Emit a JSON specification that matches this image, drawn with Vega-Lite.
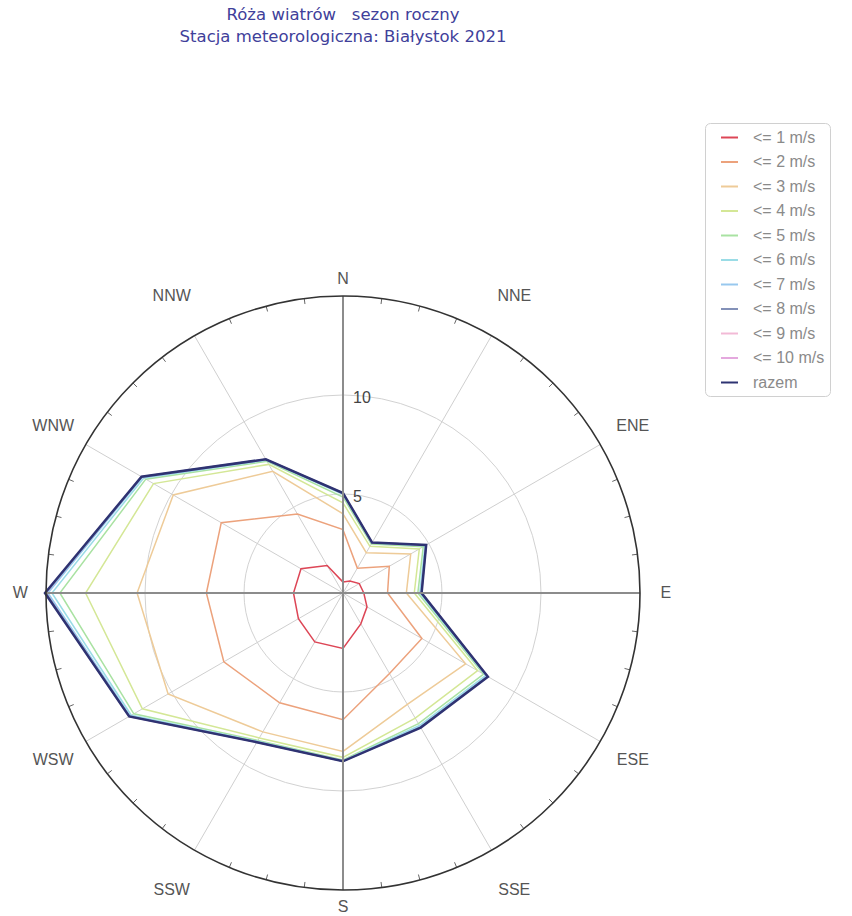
{
  "$schema": "https://vega.github.io/schema/vega-lite/v6.json",
  "width": 594,
  "height": 594,
  "autosize": "none",
  "padding": {"left": 46, "top": 296, "right": 212, "bottom": 26},
  "background": "white",
  "config": {"view": {"stroke": null}},
  "title": {
    "text": ["Róża wiatrów \u00a0 sezon roczny", "Stacja meteorologiczna: Białystok 2021"],
    "frame": "group",
    "anchor": "middle",
    "offset": 77,
    "font": "DejaVu Sans",
    "fontSize": 16.5,
    "fontWeight": "normal",
    "color": "#40409a",
    "lineHeight": 22
  },
  "datasets": {
    "wind": [
      {"s": "<= 1 m/s", "d": 0, "v": 0.55}, {"s": "<= 1 m/s", "d": 30, "v": 0.7}, {"s": "<= 1 m/s", "d": 60, "v": 0.95}, {"s": "<= 1 m/s", "d": 90, "v": 1.05}, {"s": "<= 1 m/s", "d": 120, "v": 1.4}, {"s": "<= 1 m/s", "d": 150, "v": 1.8}, {"s": "<= 1 m/s", "d": 180, "v": 2.8}, {"s": "<= 1 m/s", "d": 210, "v": 2.85}, {"s": "<= 1 m/s", "d": 240, "v": 2.6}, {"s": "<= 1 m/s", "d": 270, "v": 2.5}, {"s": "<= 1 m/s", "d": 300, "v": 2.45}, {"s": "<= 1 m/s", "d": 330, "v": 1.6},
      {"s": "<= 2 m/s", "d": 0, "v": 3.2}, {"s": "<= 2 m/s", "d": 30, "v": 1.45}, {"s": "<= 2 m/s", "d": 60, "v": 2.7}, {"s": "<= 2 m/s", "d": 90, "v": 2.25}, {"s": "<= 2 m/s", "d": 120, "v": 4.6}, {"s": "<= 2 m/s", "d": 150, "v": 4.7}, {"s": "<= 2 m/s", "d": 180, "v": 6.4}, {"s": "<= 2 m/s", "d": 210, "v": 6.4}, {"s": "<= 2 m/s", "d": 240, "v": 6.95}, {"s": "<= 2 m/s", "d": 270, "v": 6.9}, {"s": "<= 2 m/s", "d": 300, "v": 7.1}, {"s": "<= 2 m/s", "d": 330, "v": 4.6},
      {"s": "<= 3 m/s", "d": 0, "v": 4.0}, {"s": "<= 3 m/s", "d": 30, "v": 2.35}, {"s": "<= 3 m/s", "d": 60, "v": 3.95}, {"s": "<= 3 m/s", "d": 90, "v": 3.2}, {"s": "<= 3 m/s", "d": 120, "v": 7.15}, {"s": "<= 3 m/s", "d": 150, "v": 6.5}, {"s": "<= 3 m/s", "d": 180, "v": 8.0}, {"s": "<= 3 m/s", "d": 210, "v": 8.1}, {"s": "<= 3 m/s", "d": 240, "v": 10.2}, {"s": "<= 3 m/s", "d": 270, "v": 10.4}, {"s": "<= 3 m/s", "d": 300, "v": 9.9}, {"s": "<= 3 m/s", "d": 330, "v": 7.1},
      {"s": "<= 4 m/s", "d": 0, "v": 4.55}, {"s": "<= 4 m/s", "d": 30, "v": 2.72}, {"s": "<= 4 m/s", "d": 60, "v": 4.45}, {"s": "<= 4 m/s", "d": 90, "v": 3.6}, {"s": "<= 4 m/s", "d": 120, "v": 7.85}, {"s": "<= 4 m/s", "d": 150, "v": 7.3}, {"s": "<= 4 m/s", "d": 180, "v": 8.3}, {"s": "<= 4 m/s", "d": 210, "v": 8.45}, {"s": "<= 4 m/s", "d": 240, "v": 11.7}, {"s": "<= 4 m/s", "d": 270, "v": 13.0}, {"s": "<= 4 m/s", "d": 300, "v": 11.05}, {"s": "<= 4 m/s", "d": 330, "v": 7.5},
      {"s": "<= 5 m/s", "d": 0, "v": 4.85}, {"s": "<= 5 m/s", "d": 30, "v": 2.86}, {"s": "<= 5 m/s", "d": 60, "v": 4.68}, {"s": "<= 5 m/s", "d": 90, "v": 3.78}, {"s": "<= 5 m/s", "d": 120, "v": 8.2}, {"s": "<= 5 m/s", "d": 150, "v": 7.62}, {"s": "<= 5 m/s", "d": 180, "v": 8.43}, {"s": "<= 5 m/s", "d": 210, "v": 8.6}, {"s": "<= 5 m/s", "d": 240, "v": 12.2}, {"s": "<= 5 m/s", "d": 270, "v": 14.3}, {"s": "<= 5 m/s", "d": 300, "v": 11.5}, {"s": "<= 5 m/s", "d": 330, "v": 7.68},
      {"s": "<= 6 m/s", "d": 0, "v": 4.98}, {"s": "<= 6 m/s", "d": 30, "v": 2.91}, {"s": "<= 6 m/s", "d": 60, "v": 4.78}, {"s": "<= 6 m/s", "d": 90, "v": 3.88}, {"s": "<= 6 m/s", "d": 120, "v": 8.33}, {"s": "<= 6 m/s", "d": 150, "v": 7.73}, {"s": "<= 6 m/s", "d": 180, "v": 8.47}, {"s": "<= 6 m/s", "d": 210, "v": 8.65}, {"s": "<= 6 m/s", "d": 240, "v": 12.35}, {"s": "<= 6 m/s", "d": 270, "v": 14.7}, {"s": "<= 6 m/s", "d": 300, "v": 11.62}, {"s": "<= 6 m/s", "d": 330, "v": 7.74},
      {"s": "<= 7 m/s", "d": 0, "v": 5.02}, {"s": "<= 7 m/s", "d": 30, "v": 2.93}, {"s": "<= 7 m/s", "d": 60, "v": 4.83}, {"s": "<= 7 m/s", "d": 90, "v": 3.93}, {"s": "<= 7 m/s", "d": 120, "v": 8.4}, {"s": "<= 7 m/s", "d": 150, "v": 7.8}, {"s": "<= 7 m/s", "d": 180, "v": 8.49}, {"s": "<= 7 m/s", "d": 210, "v": 8.68}, {"s": "<= 7 m/s", "d": 240, "v": 12.42}, {"s": "<= 7 m/s", "d": 270, "v": 14.9}, {"s": "<= 7 m/s", "d": 300, "v": 11.7}, {"s": "<= 7 m/s", "d": 330, "v": 7.78},
      {"s": "<= 8 m/s", "d": 0, "v": 5.04}, {"s": "<= 8 m/s", "d": 30, "v": 2.94}, {"s": "<= 8 m/s", "d": 60, "v": 4.85}, {"s": "<= 8 m/s", "d": 90, "v": 3.96}, {"s": "<= 8 m/s", "d": 120, "v": 8.44}, {"s": "<= 8 m/s", "d": 150, "v": 7.84}, {"s": "<= 8 m/s", "d": 180, "v": 8.5}, {"s": "<= 8 m/s", "d": 210, "v": 8.7}, {"s": "<= 8 m/s", "d": 240, "v": 12.46}, {"s": "<= 8 m/s", "d": 270, "v": 15.0}, {"s": "<= 8 m/s", "d": 300, "v": 11.74}, {"s": "<= 8 m/s", "d": 330, "v": 7.8},
      {"s": "<= 9 m/s", "d": 0, "v": 5.05}, {"s": "<= 9 m/s", "d": 30, "v": 2.94}, {"s": "<= 9 m/s", "d": 60, "v": 4.85}, {"s": "<= 9 m/s", "d": 90, "v": 3.97}, {"s": "<= 9 m/s", "d": 120, "v": 8.45}, {"s": "<= 9 m/s", "d": 150, "v": 7.85}, {"s": "<= 9 m/s", "d": 180, "v": 8.5}, {"s": "<= 9 m/s", "d": 210, "v": 8.7}, {"s": "<= 9 m/s", "d": 240, "v": 12.47}, {"s": "<= 9 m/s", "d": 270, "v": 15.03}, {"s": "<= 9 m/s", "d": 300, "v": 11.75}, {"s": "<= 9 m/s", "d": 330, "v": 7.8},
      {"s": "<= 10 m/s", "d": 0, "v": 5.05}, {"s": "<= 10 m/s", "d": 30, "v": 2.94}, {"s": "<= 10 m/s", "d": 60, "v": 4.85}, {"s": "<= 10 m/s", "d": 90, "v": 3.97}, {"s": "<= 10 m/s", "d": 120, "v": 8.45}, {"s": "<= 10 m/s", "d": 150, "v": 7.85}, {"s": "<= 10 m/s", "d": 180, "v": 8.5}, {"s": "<= 10 m/s", "d": 210, "v": 8.7}, {"s": "<= 10 m/s", "d": 240, "v": 12.47}, {"s": "<= 10 m/s", "d": 270, "v": 15.05}, {"s": "<= 10 m/s", "d": 300, "v": 11.75}, {"s": "<= 10 m/s", "d": 330, "v": 7.8},
      {"s": "razem", "d": 0, "v": 5.05}, {"s": "razem", "d": 30, "v": 2.94}, {"s": "razem", "d": 60, "v": 4.85}, {"s": "razem", "d": 90, "v": 3.97}, {"s": "razem", "d": 120, "v": 8.45}, {"s": "razem", "d": 150, "v": 7.85}, {"s": "razem", "d": 180, "v": 8.5}, {"s": "razem", "d": 210, "v": 8.7}, {"s": "razem", "d": 240, "v": 12.47}, {"s": "razem", "d": 270, "v": 15.05}, {"s": "razem", "d": 300, "v": 11.75}, {"s": "razem", "d": 330, "v": 7.8}
    ],
    "dirs": [
      {"d": 0, "label": "N"}, {"d": 30, "label": "NNE"}, {"d": 60, "label": "ENE"}, {"d": 90, "label": "E"},
      {"d": 120, "label": "ESE"}, {"d": 150, "label": "SSE"}, {"d": 180, "label": "S"}, {"d": 210, "label": "SSW"},
      {"d": 240, "label": "WSW"}, {"d": 270, "label": "W"}, {"d": 300, "label": "WNW"}, {"d": 330, "label": "NNW"}
    ],
    "rings": [{"r": 5}, {"r": 10}],
    "outer": [{"r": 15}],
    "ticks": [
      {"d": 7.5}, {"d": 15}, {"d": 22.5}, {"d": 37.5}, {"d": 45}, {"d": 52.5}, {"d": 67.5}, {"d": 75}, {"d": 82.5},
      {"d": 97.5}, {"d": 105}, {"d": 112.5}, {"d": 127.5}, {"d": 135}, {"d": 142.5}, {"d": 157.5}, {"d": 165}, {"d": 172.5},
      {"d": 187.5}, {"d": 195}, {"d": 202.5}, {"d": 217.5}, {"d": 225}, {"d": 232.5}, {"d": 247.5}, {"d": 255}, {"d": 262.5},
      {"d": 277.5}, {"d": 285}, {"d": 292.5}, {"d": 307.5}, {"d": 315}, {"d": 322.5}, {"d": 337.5}, {"d": 345}, {"d": 352.5}
    ]
  },
  "layer": [
    {
      "data": {"name": "rings"},
      "transform": [{"calculate": "0", "as": "cx"}, {"calculate": "0", "as": "cy"}],
      "mark": {"type": "point", "shape": "circle", "filled": false, "stroke": "#d2d2d2", "strokeWidth": 1, "opacity": 1},
      "encoding": {
        "x": {"field": "cx", "type": "quantitative", "scale": {"domain": [-15, 15], "nice": false, "zero": false}, "axis": null},
        "y": {"field": "cy", "type": "quantitative", "scale": {"domain": [-15, 15], "nice": false, "zero": false}, "axis": null},
        "size": {"field": "r", "type": "quantitative", "scale": {"type": "pow", "exponent": 2, "domain": [0, 15], "range": [0, 352836], "zero": true, "nice": false}, "legend": null}
      }
    },
    {
      "data": {"name": "dirs"},
      "transform": [
        {"filter": "datum.d % 90 != 0"},
        {"calculate": "0", "as": "xs"},
        {"calculate": "0", "as": "ys"},
        {"calculate": "15 * sin(datum.d * PI / 180)", "as": "xe"},
        {"calculate": "15 * cos(datum.d * PI / 180)", "as": "ye"}
      ],
      "mark": {"type": "rule", "stroke": "#cfcfcf", "strokeWidth": 1},
      "encoding": {
        "x": {"field": "xs", "type": "quantitative"},
        "y": {"field": "ys", "type": "quantitative"},
        "x2": {"field": "xe"},
        "y2": {"field": "ye"}
      }
    },
    {
      "data": {"name": "ticks"},
      "transform": [
        {"calculate": "14.72 * sin(datum.d * PI / 180)", "as": "xs"},
        {"calculate": "14.72 * cos(datum.d * PI / 180)", "as": "ys"},
        {"calculate": "15 * sin(datum.d * PI / 180)", "as": "xe"},
        {"calculate": "15 * cos(datum.d * PI / 180)", "as": "ye"}
      ],
      "mark": {"type": "rule", "stroke": "#666666", "strokeWidth": 1},
      "encoding": {
        "x": {"field": "xs", "type": "quantitative"},
        "y": {"field": "ys", "type": "quantitative"},
        "x2": {"field": "xe"},
        "y2": {"field": "ye"}
      }
    },
    {
      "data": {"name": "wind"},
      "transform": [
        {"filter": "datum.s != 'razem'"},
        {"calculate": "datum.v * sin(datum.d * PI / 180)", "as": "x"},
        {"calculate": "datum.v * cos(datum.d * PI / 180)", "as": "y"}
      ],
      "mark": {"type": "line", "interpolate": "linear-closed", "strokeWidth": 1.5},
      "encoding": {
        "x": {"field": "x", "type": "quantitative"},
        "y": {"field": "y", "type": "quantitative"},
        "order": {"field": "d", "type": "quantitative"},
        "color": {
          "field": "s",
          "type": "nominal",
          "scale": {
            "domain": ["<= 1 m/s", "<= 2 m/s", "<= 3 m/s", "<= 4 m/s", "<= 5 m/s", "<= 6 m/s", "<= 7 m/s", "<= 8 m/s", "<= 9 m/s", "<= 10 m/s", "razem"],
            "range": ["#dd4656", "#eca27c", "#eecb98", "#d4e796", "#a9e2a2", "#9adce6", "#98c8ee", "#8391b8", "#f2bad6", "#e4a8de", "#2e3372"]
          },
          "legend": {
            "orient": "none",
            "legendX": 659,
            "legendY": -173,
            "title": null,
            "symbolType": "stroke",
            "symbolSize": 289,
            "symbolStrokeWidth": 2,
            "symbolOffset": 10,
            "labelFont": "Liberation Sans",
            "labelFontSize": 16,
            "labelColor": "#8a8a8a",
            "labelOffset": 14,
            "rowPadding": 6.5,
            "padding": 5,
            "strokeColor": "#d0d0d0",
            "fillColor": "white",
            "cornerRadius": 5
          }
        }
      }
    },
    {
      "data": {"name": "wind"},
      "transform": [
        {"filter": "datum.s == 'razem'"},
        {"calculate": "datum.v * sin(datum.d * PI / 180)", "as": "x"},
        {"calculate": "datum.v * cos(datum.d * PI / 180)", "as": "y"}
      ],
      "mark": {"type": "line", "interpolate": "linear-closed", "strokeWidth": 2.5},
      "encoding": {
        "x": {"field": "x", "type": "quantitative"},
        "y": {"field": "y", "type": "quantitative"},
        "order": {"field": "d", "type": "quantitative"},
        "color": {"field": "s", "type": "nominal"}
      }
    },
    {
      "data": {"name": "dirs"},
      "transform": [
        {"filter": "datum.d % 90 == 0"},
        {"calculate": "0", "as": "xs"},
        {"calculate": "0", "as": "ys"},
        {"calculate": "15 * sin(datum.d * PI / 180)", "as": "xe"},
        {"calculate": "15 * cos(datum.d * PI / 180)", "as": "ye"}
      ],
      "mark": {"type": "rule", "stroke": "#8c8c8c", "strokeWidth": 2},
      "encoding": {
        "x": {"field": "xs", "type": "quantitative"},
        "y": {"field": "ys", "type": "quantitative"},
        "x2": {"field": "xe"},
        "y2": {"field": "ye"}
      }
    },
    {
      "data": {"name": "outer"},
      "transform": [{"calculate": "0", "as": "cx"}, {"calculate": "0", "as": "cy"}],
      "mark": {"type": "point", "shape": "circle", "filled": false, "stroke": "#333333", "strokeWidth": 1.6, "opacity": 1},
      "encoding": {
        "x": {"field": "cx", "type": "quantitative"},
        "y": {"field": "cy", "type": "quantitative"},
        "size": {"field": "r", "type": "quantitative", "legend": null}
      }
    },
    {
      "data": {"name": "dirs"},
      "transform": [
        {"calculate": "datum.d % 180 == 0 ? 15.85 : (datum.d % 90 == 0 ? 16.3 : (datum.d % 60 == 0 ? 16.9 : 17.3))", "as": "rl"},
        {"calculate": "datum.rl * sin(datum.d * PI / 180)", "as": "xl"},
        {"calculate": "datum.rl * cos(datum.d * PI / 180)", "as": "yl"}
      ],
      "mark": {"type": "text", "font": "Liberation Sans", "fontSize": 16, "color": "#555555", "align": "center", "baseline": "middle"},
      "encoding": {
        "x": {"field": "xl", "type": "quantitative"},
        "y": {"field": "yl", "type": "quantitative"},
        "text": {"field": "label", "type": "nominal"}
      }
    },
    {
      "data": {"name": "rings"},
      "transform": [{"calculate": "0", "as": "cx"}],
      "mark": {"type": "text", "font": "Liberation Sans", "fontSize": 16, "color": "#444444", "align": "left", "baseline": "middle", "dx": 10, "dy": 3},
      "encoding": {
        "x": {"field": "cx", "type": "quantitative"},
        "y": {"field": "r", "type": "quantitative"},
        "text": {"field": "r", "type": "quantitative"}
      }
    }
  ]
}
